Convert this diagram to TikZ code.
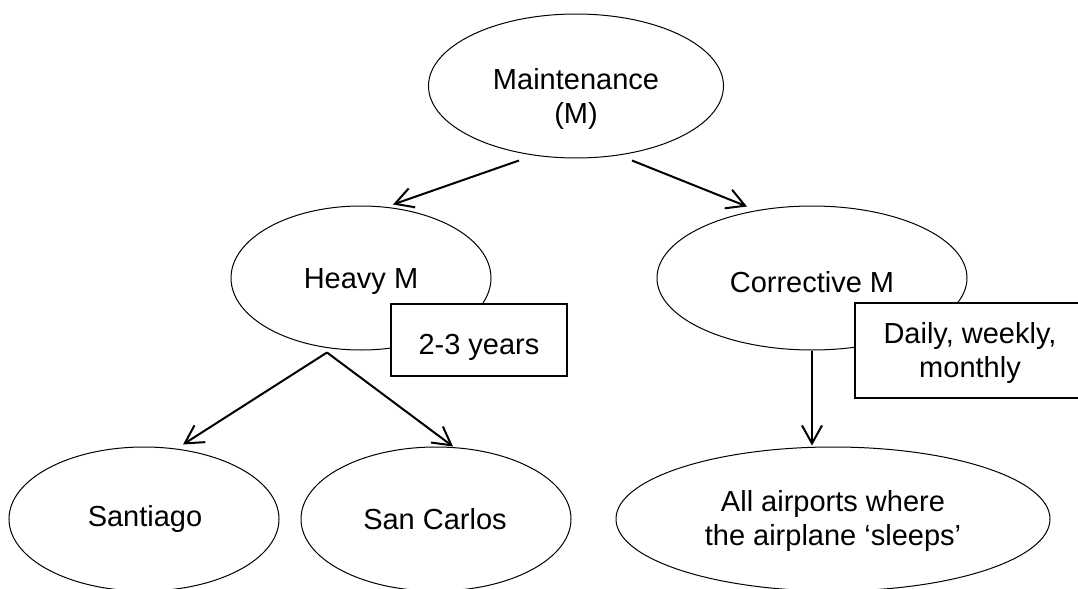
\documentclass[tikz,border=0pt]{standalone}
\usepackage{fontspec}
\setmainfont{Liberation Sans}
\usetikzlibrary{shapes.geometric,arrows.meta,calc}
\begin{document}
\begin{tikzpicture}[x=0.5pt,y=-0.5pt,
  oval/.style={ellipse, draw, line width=0.5pt, inner sep=0pt, minimum height=72pt},
  tag/.style={rectangle, draw, fill=white, line width=0.7pt, inner sep=0pt},
  lbl/.style={font=\fontsize{14.5}{17}\selectfont, align=center, inner sep=0pt},
  link/.style={line width=1pt, -{Straight Barb[length=9pt,width=10pt,line width=1pt]}}]
\useasboundingbox (0,0) rectangle (1078,589);
\clip (0,0) rectangle (1078,589);

% ellipses of the maintenance tree
\node[oval, minimum width=147.5pt] (m)  at (576,86)  {};
\node[oval, minimum width=130pt]   (h)  at (361,278) {};
\node[oval, minimum width=155pt]   (c)  at (812,278) {};
\node[oval, minimum width=135pt]   (s)  at (144,519) {};
\node[oval, minimum width=135pt]   (sc) at (436,519) {};
\node[oval, minimum width=217pt]   (ap) at (833,519) {};

\node[lbl] (mt)  at (576,99)  {Maintenance\\(M)};
\node[lbl] (ht)  at (361,282) {Heavy M};
\node[lbl] (ct)  at (812,282) {Corrective M};
\node[lbl] (st)  at (145,519) {Santiago};
\node[lbl] (sct) at (435,519) {San Carlos};
\node[lbl] (apt) at (833,521) {All airports where\\the airplane ‘sleeps’};

% connectors
\coordinate (hs) at ($(h.south)+(-34,2)$);
\draw[link] ($(m.south)+(-57,2)$) -- ($(h.north)+(32,-1)$);
\draw[link] ($(m.south)+(56,2)$)  -- ($(c.north)+(-65,1)$);
\draw[link] (hs) -- ($(s.north)+(39,-2)$);
\draw[link] (hs) -- ($(sc.north)+(17,0)$);
\draw[link] (c.south) -- ($(ap.north)+(-21,-1)$);

% frequency notes
\node[tag, minimum width=88pt, minimum height=36pt] (yrs) at (479,340) {};
\node[lbl] (yrst) at (479,347) {2-3 years};
\node[tag, minimum width=117.5pt, minimum height=47.5pt] (freq) at (972.5,350.5) {};
\node[lbl] (freqt) at (970,353) {Daily, weekly,\\monthly};
\end{tikzpicture}
\end{document}
